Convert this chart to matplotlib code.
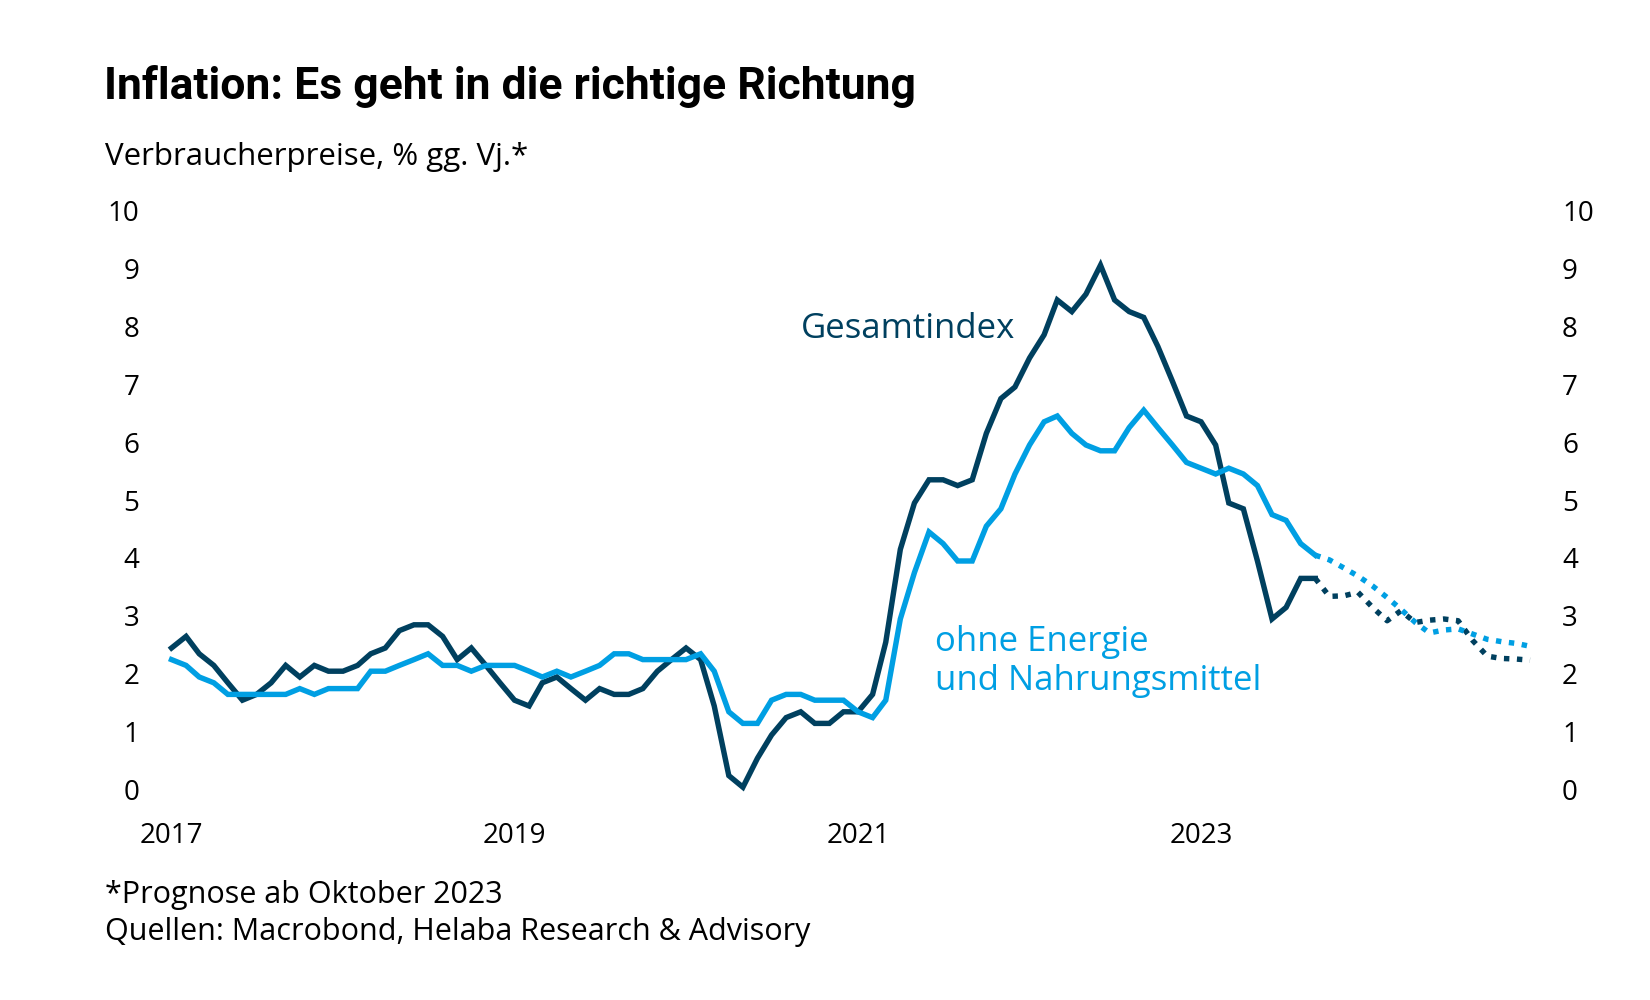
import pandas as pd
import numpy as np
import matplotlib
matplotlib.use("Agg")
import matplotlib.pyplot as plt
import matplotlib.transforms as mtransforms

# Verbraucherpreise, % gg. Vj. (monthly, Jan 2017 - Sep 2023 actual)
gesamt = [2.5, 2.7, 2.4, 2.2, 1.9, 1.6, 1.7, 1.9, 2.2, 2.0, 2.2, 2.1,
          2.1, 2.2, 2.4, 2.5, 2.8, 2.9, 2.9, 2.7, 2.3, 2.5, 2.2, 1.9,
          1.6, 1.5, 1.9, 2.0, 1.8, 1.6, 1.8, 1.7, 1.7, 1.8, 2.1, 2.3,
          2.5, 2.3, 1.5, 0.3, 0.1, 0.6, 1.0, 1.3, 1.4, 1.2, 1.2, 1.4,
          1.4, 1.7, 2.6, 4.2, 5.0, 5.4, 5.4, 5.3, 5.4, 6.2, 6.8, 7.0,
          7.5, 7.9, 8.5, 8.3, 8.6, 9.1, 8.5, 8.3, 8.2, 7.7, 7.1, 6.5,
          6.4, 6.0, 5.0, 4.9, 4.0, 3.0, 3.2, 3.7, 3.7]
kern = [2.3, 2.2, 2.0, 1.9, 1.7, 1.7, 1.7, 1.7, 1.7, 1.8, 1.7, 1.8,
        1.8, 1.8, 2.1, 2.1, 2.2, 2.3, 2.4, 2.2, 2.2, 2.1, 2.2, 2.2,
        2.2, 2.1, 2.0, 2.1, 2.0, 2.1, 2.2, 2.4, 2.4, 2.3, 2.3, 2.3,
        2.3, 2.4, 2.1, 1.4, 1.2, 1.2, 1.6, 1.7, 1.7, 1.6, 1.6, 1.6,
        1.4, 1.3, 1.6, 3.0, 3.8, 4.5, 4.3, 4.0, 4.0, 4.6, 4.9, 5.5,
        6.0, 6.4, 6.5, 6.2, 6.0, 5.9, 5.9, 6.3, 6.6, 6.3, 6.0, 5.7,
        5.6, 5.5, 5.6, 5.5, 5.3, 4.8, 4.7, 4.3, 4.1]

# Prognose Oct 2023 - Dec 2024
gesamt_prog = [3.39, 3.40, 3.46, 3.20, 2.97, 3.14, 2.94, 2.98, 3.00, 2.97,
               2.63, 2.36, 2.32, 2.31, 2.29]
kern_prog = [4.02, 3.88, 3.74, 3.57, 3.37, 3.17, 2.94, 2.76, 2.81, 2.83,
             2.74, 2.65, 2.61, 2.58, 2.53]

year_ticks = ["2017", "2019", "2021", "2023"]
y_ticks = list(range(0, 11))

dark = "#00405F"
light = "#009FE3"
body_font = ["Open Sans", "DejaVu Sans"]

dates = pd.date_range("2017-01-01", periods=len(gesamt), freq="MS")
dates_prog = pd.date_range(dates[-1], periods=len(gesamt_prog) + 1, freq="MS")

W, H = 1650, 1000
fig = plt.figure(figsize=(W / 100, H / 100), dpi=100)
ax = fig.add_axes([171.5 / W, 1 - 793 / H, (1530 - 171.5) / W, 580 / H])

lw = 3.9
ax.plot(dates, gesamt, color=dark, lw=lw, solid_joinstyle="miter", clip_on=False)
ax.plot(dates, kern, color=light, lw=lw, solid_joinstyle="miter", clip_on=False)
ax.plot(dates_prog, [gesamt[-1]] + gesamt_prog, color=dark, lw=lw,
        linestyle=(0, (1.0, 1.4)), dash_capstyle="butt", clip_on=False)
ax.plot(dates_prog, [kern[-1]] + kern_prog, color=light, lw=lw,
        linestyle=(0, (1.0, 1.4)), dash_capstyle="butt", clip_on=False)

ax.set_xlim(pd.Timestamp("2017-01-01"), pd.Timestamp("2024-12-01"))
ax.set_ylim(0, 10)
ax.set_yticks(y_ticks)
ax.set_xticks([pd.Timestamp(f"{y}-01-01") for y in year_ticks])
ax.set_xticklabels(year_ticks)
ax.tick_params(axis="y", length=0, pad=23, labelsize=20, labelright=True)
ax.tick_params(axis="x", length=0, pad=21, labelsize=20)
for lab in ax.get_xticklabels():
    lab.set_family(body_font)

# y labels sit a few pixels above their values in the original
shift = mtransforms.ScaledTranslation(0, 3 / 100, fig.dpi_scale_trans)
for t in ax.yaxis.get_major_ticks():
    for lab in (t.label1, t.label2):
        lab.set_family(body_font)
        lab.set_fontsize(20)
        lab.set_transform(lab.get_transform() + shift)
for s in ax.spines.values():
    s.set_visible(False)

# titles and notes
fig.text(104 / W, 1 - 99.5 / H, "Inflation: Es geht in die richtige Richtung",
         fontsize=32, fontweight="bold", family=["Roboto", "DejaVu Sans"],
         va="baseline", ha="left")
fig.text(105 / W, 1 - 165.5 / H, "Verbraucherpreise, % gg. Vj.*",
         fontsize=22.5, family=body_font, va="baseline", ha="left")
fig.text(105 / W, 1 - 903.5 / H, "*Prognose ab Oktober 2023",
         fontsize=22, family=body_font, va="baseline", ha="left")
fig.text(105 / W, 1 - 940 / H, "Quellen: Macrobond, Helaba Research & Advisory",
         fontsize=22, family=body_font, va="baseline", ha="left")

# series labels
fig.text(801 / W, 1 - 338 / H, "Gesamtindex", fontsize=25, color=dark,
         family=body_font, va="baseline", ha="left")
fig.text(935 / W, 1 - 651 / H, "ohne Energie", fontsize=25, color=light,
         family=body_font, va="baseline", ha="left")
fig.text(935 / W, 1 - 690 / H, "und Nahrungsmittel", fontsize=25, color=light,
         family=body_font, va="baseline", ha="left")

fig.savefig("out.png", dpi=100, facecolor="white")
